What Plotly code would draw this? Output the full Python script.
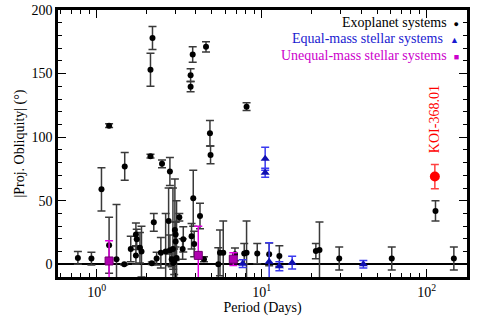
import plotly.graph_objects as go

# Exoplanet systems: period (days), |projected obliquity| (deg), 1-sigma error
exo_period = [0.77, 0.93, 1.07, 1.19, 1.19, 1.32, 1.47, 1.48, 1.61, 1.73,
              1.75, 1.73, 1.83, 1.87, 2.12, 2.12, 2.18, 2.22, 2.16, 2.31,
              2.45, 2.49, 2.73, 2.78, 2.78, 2.85, 2.91, 2.98, 3.01, 3.01,
              3.17, 3.32, 3.35, 3.76, 3.85, 3.90, 3.71, 3.71, 3.82, 4.23,
              4.47, 4.60, 4.86, 4.90, 5.46, 5.59, 5.85, 6.89, 7.84, 8.10,
              8.10, 9.40, 11.1, 12.8, 21.3, 22.4, 29.5, 61.4, 113.0, 146.0,
              2.90, 3.05, 2.95, 2.62]
exo_obl = [5, 4.5, 59, 15, 109, 4, 0, 77, 12, 23.5,
           19.6, 7, 13, 10, 153, 85, 178, 33, 0.8, 4.5,
           9, 79, 34, 73, 11, 4, 1, 27, 23.5, 18,
           37, 12, 19.6, 22, 52, 16, 148.7, 139.7, 165, 38,
           4, 171, 103, 86, 0, 9, 9, 7.8, 8.4, 9,
           124, 8.4, 7.8, 6.5, 10.4, 11.2, 4.5, 4.5, 42, 4.5,
           12, 5, 2, 10]
exo_err = [5, 5, 17, 22, 1.5, 43, 0.5, 11, 10, 9,
           8, 7, 12, 20, 13, 1.5, 9, 7, 1, 5,
           12, 3, 26, 11, 12, 6, 5, 40, 10, 15,
           3, 8, 10, 10, 22, 10, 5, 4, 6, 10,
           2, 4, 10, 7, 13, 18, 25, 5, 8, 25,
           3, 8, 9, 8, 6, 22, 9, 9, 8, 9,
           48, 45, 10, 30]

# Equal-mass stellar systems
eq_period = [7.67, 10.5, 10.5, 11.1, 12.8, 15.3, 41.3]
eq_obl = [0.5, 83, 72, 2, -1.5, 1.3, 0]
eq_err = [3, 9, 3.5, 15, 3.5, 5, 3]

# Unequal-mass stellar systems
uneq_period = [1.19, 4.13, 6.73]
uneq_obl = [2.6, 7, 4]
uneq_err = [16, 23, 5]

# KOI-368.01
koi_period = [112]
koi_obl = [69]
koi_err = [9.5]

serif = "'Liberation Serif', 'Times New Roman', serif"

fig = go.Figure()

fig.add_trace(go.Scatter(
    x=exo_period, y=exo_obl, mode="markers",
    marker=dict(symbol="circle", size=6, color="black"),
    error_y=dict(type="data", array=exo_err, color="#3a3a3a", thickness=1.5, width=4),
    showlegend=False))

fig.add_trace(go.Scatter(
    x=eq_period, y=eq_obl, mode="markers",
    marker=dict(symbol="triangle-up", size=8, color="#1010b0"),
    error_y=dict(type="data", array=eq_err, color="#3a3af0", thickness=1.5, width=4),
    showlegend=False))

fig.add_trace(go.Scatter(
    x=uneq_period, y=uneq_obl, mode="markers",
    marker=dict(symbol="square", size=8, color="#b000b0",
                line=dict(color="#700070", width=1)),
    error_y=dict(type="data", array=uneq_err, color="#e000e0", thickness=1.5, width=4),
    showlegend=False))

fig.add_trace(go.Scatter(
    x=koi_period, y=koi_obl, mode="markers",
    marker=dict(symbol="circle", size=10, color="#ff0000"),
    error_y=dict(type="data", array=koi_err, color="#ff4040", thickness=1.5, width=4),
    showlegend=False))

legend_rows = [
    ("Exoplanet systems", "●", "black"),
    ("Equal-mass stellar systems", "▲", "#1a1ad0"),
    ("Unequal-mass stellar systems", "■", "#cc00cc"),
]
for i, (label, sym, col) in enumerate(legend_rows):
    fig.add_annotation(
        x=0.985, y=0.955 - i * 0.062, xref="paper", yref="paper",
        xanchor="right", yanchor="middle", showarrow=False,
        text=f"{label}  <span style='font-size:9px'>{sym}</span>",
        font=dict(family=serif, size=14, color=col))

fig.add_annotation(
    x=2.049, y=114, xref="x", yref="y", textangle=-90, showarrow=False,
    text="KOI-368.01", font=dict(family=serif, size=14, color="#ff0000"))

axis_common = dict(
    showline=True, linewidth=2.5, linecolor="black", mirror="allticks",
    ticks="inside", tickcolor="black", tickwidth=1.2, ticklen=8,
    showgrid=False, automargin=False, ticklabeloverflow="allow",
    tickfont=dict(family=serif, size=14, color="black"),
)

fig.update_xaxes(
    type="log", range=[-0.234, 2.244],
    tickvals=[1, 10, 100], ticktext=["10<sup>0</sup>", "10<sup>1</sup>", "10<sup>2</sup>"],
    minor=dict(ticks="inside", ticklen=4, tickcolor="black", tickwidth=1.2,
               tickvals=[0.6, 0.7, 0.8, 0.9, 2, 3, 4, 5, 6, 7, 8, 9,
                         20, 30, 40, 50, 60, 70, 80, 90, 200]),
    title=dict(text="Period (Days)", font=dict(family=serif, size=14, color="black"), standoff=4),
    zeroline=False, **axis_common)

fig.update_yaxes(
    range=[-10, 200], tickvals=[0, 50, 100, 150, 200],
    minor=dict(ticks="inside", ticklen=4, tickcolor="black", tickwidth=1.2, dtick=10),
    title=dict(text="|Proj. Obliquity| (°)", font=dict(family=serif, size=14, color="black"), standoff=4),
    zeroline=True, zerolinecolor="black", zerolinewidth=1.5, **axis_common)

fig.update_layout(
    width=491, height=327,
    margin=dict(l=58, r=24, t=10, b=50, autoexpand=False),
    paper_bgcolor="white", plot_bgcolor="white",
    font=dict(family=serif, color="black"),
)

# drop the default body margin so the figure sits at the page corner
fig.write_html("out.html", config={"displayModeBar": False},
               post_script="document.body.style.margin='0';")
